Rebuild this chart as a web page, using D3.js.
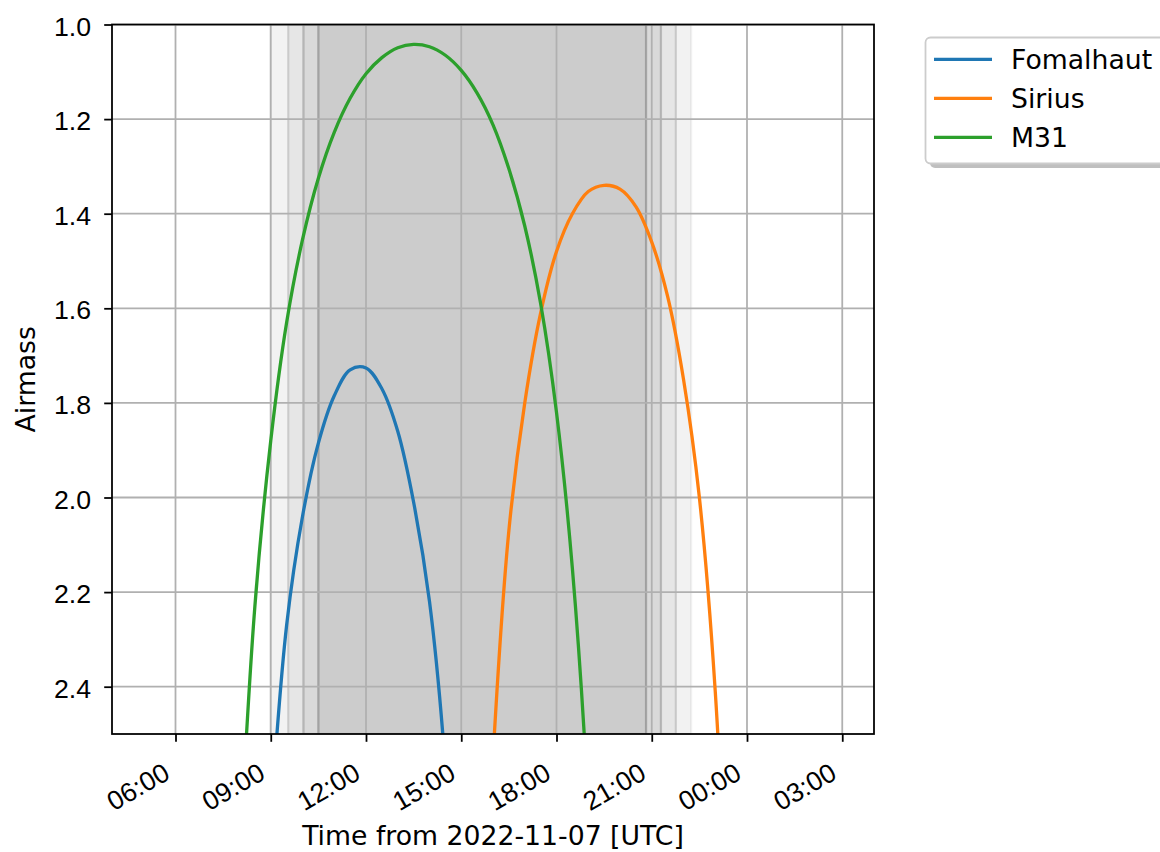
<!DOCTYPE html>
<html lang="en">
<head>
<meta charset="UTF-8">
<title>airmass plot</title>
<script src="https://d3js.org/d3.v7.min.js"></script>
<style>
  body { margin: 0; background: #fff; }
  svg { display: block; font-family: "DejaVu Sans", sans-serif; }
</style>
</head>
<body>
<svg width="1160" height="852"></svg>
<script>
// hours since 2022-11-07 00:00 UTC, read every half hour
const hours = [8, 8.5, 9, 9.5, 10, 10.5, 11, 11.5, 12, 12.5, 13, 13.5, 14, 14.5, 15, 15.5,
               16, 16.5, 17, 17.5, 18, 18.5, 19, 19.5, 20, 20.5, 21, 21.5, 22, 22.5, 23, 23.5];
const fomalhaut = [null, null, 2.68, 2.27, 2.04, 1.885, 1.785, 1.73, 1.726, 1.77, 1.86, 2.01, 2.22, 2.57, 3.2, null,
                   null, null, null, null, null, null, null, null, null, null, null, null, null, null, null, null];
const sirius = [null, null, null, null, null, null, null, null, null, null, null, null, null, null, null, 3.3,
                2.55, 2.07, 1.80, 1.61, 1.48, 1.40, 1.353, 1.34, 1.348, 1.385, 1.46, 1.575, 1.75, 2.0, 2.41, 3.1];
const m31 = [2.79, 2.23, 1.88, 1.63, 1.455, 1.325, 1.228, 1.156, 1.104, 1.07, 1.049, 1.042, 1.047, 1.065, 1.097, 1.145,
             1.212, 1.305, 1.426, 1.59, 1.82, 2.15, 2.65, 3.5, null, null, null, null, null, null, null, null];

const targets = ['Fomalhaut', 'Sirius', 'M31'];
const seriesValues = [fomalhaut, sirius, m31];
const colors = ['#1f77b4', '#ff7f0e', '#2ca02c'];

// sunset, twilights, sunrise (hours) and the shade between each pair
const twilightHours = [8.99, 9.55, 10.03, 10.50, 20.82, 21.29, 21.76, 22.24];
const twilightAlpha = [0.1, 0.2, 0.3, 0.4, 0.3, 0.2, 0.1];

const airmassTicks = [1.0, 1.2, 1.4, 1.6, 1.8, 2.0, 2.2, 2.4];

const svg = d3.select('svg');
const margin = {left: 112, right: 874, top: 24.5, bottom: 734};
const fs = 26.7;

const t0 = Date.UTC(2022, 10, 7);
const toDate = h => new Date(t0 + h * 3600e3);

const x = d3.scaleUtc()
    .domain([toDate(4), toDate(28)])
    .range([margin.left, margin.right]);
const y = d3.scaleLinear()
    .domain([1.0, 2.5])
    .range([margin.top, margin.bottom]);

svg.append('defs').append('clipPath').attr('id', 'plot')
    .append('rect')
    .attr('x', margin.left).attr('y', margin.top)
    .attr('width', margin.right - margin.left)
    .attr('height', margin.bottom - margin.top);

const plot = svg.append('g').attr('clip-path', 'url(#plot)');

// twilight shading
plot.selectAll('rect.twi')
    .data(twilightAlpha)
    .enter().append('rect')
    .attr('class', 'twi')
    .attr('x', (d, i) => x(toDate(twilightHours[i])))
    .attr('width', (d, i) => x(toDate(twilightHours[i + 1])) - x(toDate(twilightHours[i])))
    .attr('y', margin.top)
    .attr('height', margin.bottom - margin.top)
    .attr('fill', 'grey')
    .attr('fill-opacity', d => d)
    .attr('stroke', 'grey')
    .attr('stroke-opacity', d => d)
    .attr('stroke-width', 2.2);

// grid
const xTicks = d3.utcHour.every(3).range(toDate(4), toDate(28.01));
plot.selectAll('line.vgrid')
    .data(xTicks)
    .enter().append('line')
    .attr('x1', d => x(d)).attr('x2', d => x(d))
    .attr('y1', margin.top).attr('y2', margin.bottom)
    .attr('stroke', '#b0b0b0').attr('stroke-width', 1.78);
plot.selectAll('line.hgrid')
    .data(airmassTicks)
    .enter().append('line')
    .attr('y1', d => y(d)).attr('y2', d => y(d))
    .attr('x1', margin.left).attr('x2', margin.right)
    .attr('stroke', '#b0b0b0').attr('stroke-width', 1.78);

// airmass curves
const line = d3.line()
    .defined(d => d[1] != null)
    .x(d => x(toDate(d[0])))
    .y(d => y(d[1]))
    .curve(d3.curveCatmullRom.alpha(0.5));

seriesValues.forEach((vals, k) => {
    plot.append('path')
        .datum(hours.map((h, i) => [h, vals[i]]))
        .attr('d', line)
        .attr('fill', 'none')
        .attr('stroke', colors[k])
        .attr('stroke-width', 3.3);
});

// axes
const xAxis = d3.axisBottom(x)
    .tickValues(xTicks)
    .tickFormat(d3.utcFormat('%H:%M'))
    .tickSize(7.8)
    .tickPadding(0);
const gx = svg.append('g')
    .attr('transform', `translate(0,${margin.bottom})`)
    .call(xAxis);
gx.select('.domain').remove();
gx.selectAll('line').attr('stroke', '#000').attr('stroke-width', 1.78);
gx.selectAll('text')
    .style('font-size', fs + 'px')
    .attr('fill', '#000')
    .attr('text-anchor', 'end')
    .attr('x', -4.5).attr('y', 44).attr('dy', 0)
    .attr('transform', 'rotate(-30 -4.5 44)');

const yAxis = d3.axisLeft(y)
    .tickValues(airmassTicks)
    .tickFormat(d3.format('.1f'))
    .tickSize(7.8)
    .tickPadding(0);
const gy = svg.append('g')
    .attr('transform', `translate(${margin.left},0)`)
    .call(yAxis);
gy.select('.domain').remove();
gy.selectAll('line').attr('stroke', '#000').attr('stroke-width', 1.78);
gy.selectAll('text')
    .style('font-size', fs + 'px')
    .attr('fill', '#000')
    .attr('x', -21)
    .attr('dy', '0.4em');

svg.append('rect')
    .attr('x', margin.left).attr('y', margin.top)
    .attr('width', margin.right - margin.left)
    .attr('height', margin.bottom - margin.top)
    .attr('fill', 'none')
    .attr('stroke', '#000')
    .attr('stroke-width', 1.78);

svg.append('text')
    .attr('x', (margin.left + margin.right) / 2)
    .attr('y', 845)
    .attr('text-anchor', 'middle')
    .attr('font-size', fs)
    .text('Time from 2022-11-07 [UTC]');

svg.append('text')
    .attr('transform', `translate(35,${(margin.top + margin.bottom) / 2}) rotate(-90)`)
    .attr('text-anchor', 'middle')
    .attr('font-size', fs)
    .text('Airmass');

// legend
const lg = svg.append('g');
lg.append('rect')
    .attr('x', 930).attr('y', 42).attr('width', 300).attr('height', 126)
    .attr('rx', 5).attr('fill', 'grey').attr('fill-opacity', 0.5);
lg.append('rect')
    .attr('x', 925.5).attr('y', 37.5).attr('width', 300).attr('height', 126)
    .attr('rx', 5).attr('fill', '#fff').attr('stroke', '#cccccc').attr('stroke-width', 1.78);
targets.forEach((name, i) => {
    const ly = 59.3 + i * 39;
    lg.append('line')
        .attr('x1', 934).attr('x2', 992)
        .attr('y1', ly).attr('y2', ly)
        .attr('stroke', colors[i]).attr('stroke-width', 3.3);
    lg.append('text')
        .attr('x', 1011).attr('y', ly).attr('dy', '0.36em')
        .attr('font-size', fs)
        .text(name);
});
</script>
</body>
</html>
